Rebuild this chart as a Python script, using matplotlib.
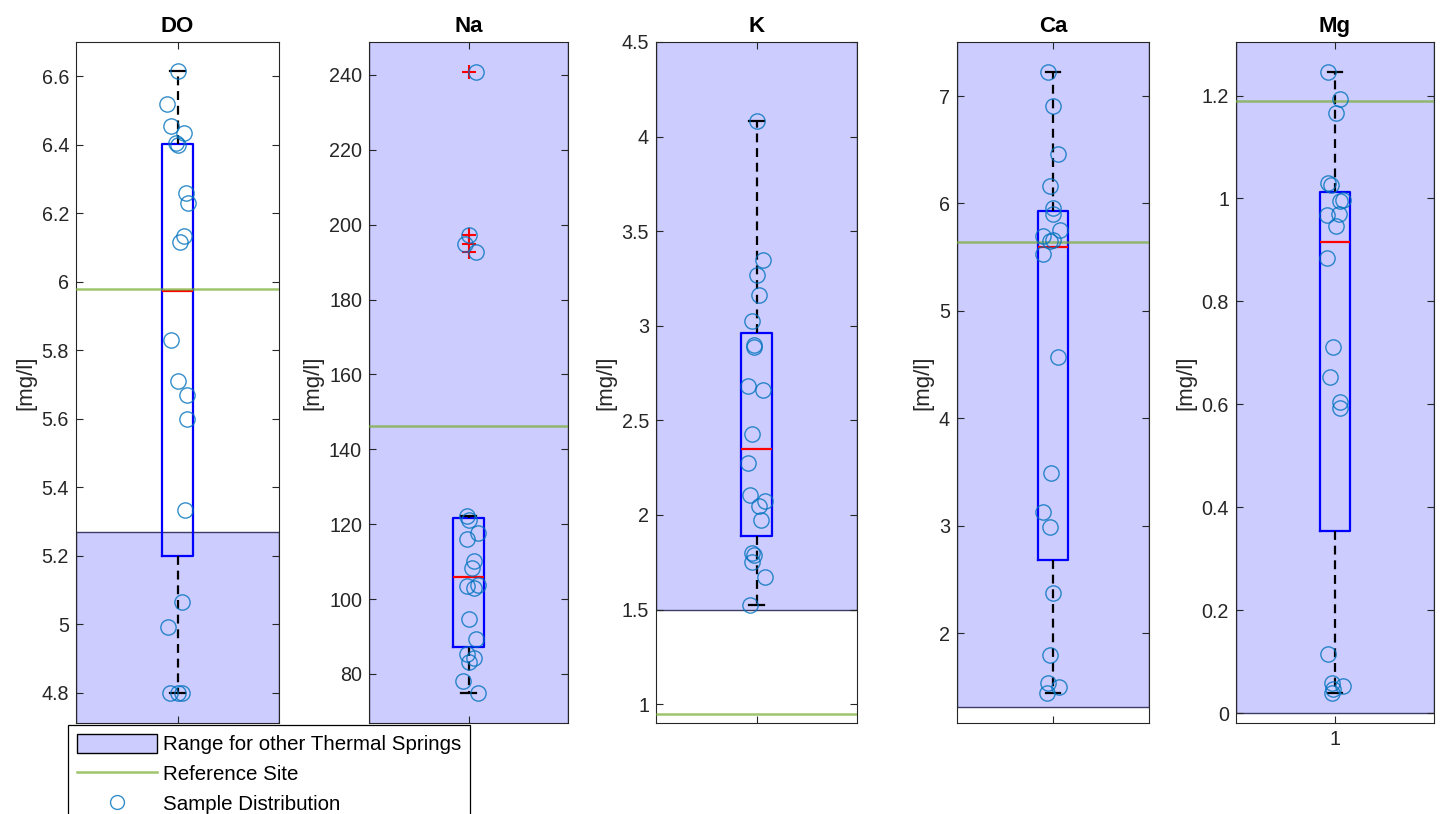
import numpy as np
import matplotlib
matplotlib.use('Agg')
import matplotlib.pyplot as plt
from matplotlib.patches import Rectangle, Patch
from matplotlib.lines import Line2D

plt.rcParams['font.family'] = ['Liberation Sans', 'DejaVu Sans']

# parameters shown, one panel each
params = ['DO', 'Na', 'K', 'Ca', 'Mg']

# sample values (mg/l) and the horizontal jitter
do_vals = [6.615, 6.52, 6.454, 6.433, 6.40, 6.405, 6.258, 6.23, 6.135, 6.115,
           5.83, 5.71, 5.67, 5.60, 5.335, 5.066, 4.993, 4.80, 4.80, 4.80]
do_jit = [0.0, -0.05, -0.03, 0.03, 0.0, -0.005, 0.04, 0.05, 0.03, 0.01,
          -0.03, 0.0, 0.045, 0.045, 0.035, 0.02, -0.045, -0.035, 0.0, 0.02]

na_vals = [240.8, 197.2, 194.8, 192.7, 122.1, 121.1, 117.6, 116.0, 110.1, 108.2,
           103.7, 103.5, 102.9, 94.7, 89.3, 85.3, 84.3, 83.2, 78.1, 75.0]
na_jit = [0.04, 0.0, -0.02, 0.04, -0.01, 0.0, 0.05, -0.01, 0.03, 0.02,
          0.05, -0.01, 0.03, 0.0, 0.04, -0.01, 0.03, 0.0, -0.03, 0.05]

k_vals = [4.08, 3.347, 3.27, 3.16, 3.025, 2.90, 2.89, 2.68, 2.66, 2.426,
          2.274, 2.105, 2.074, 2.047, 1.974, 1.80, 1.79, 1.753, 1.674, 1.526]
k_jit = [0.0, 0.03, 0.0, 0.01, -0.02, -0.01, -0.01, -0.04, 0.03, -0.02,
         -0.04, -0.03, 0.04, 0.01, 0.02, -0.02, -0.01, -0.02, 0.04, -0.03]

ca_vals = [7.22, 6.91, 6.456, 6.16, 5.955, 5.90, 5.75, 5.70, 5.655, 5.65,
           5.53, 4.57, 3.49, 3.13, 2.99, 2.37, 1.795, 1.535, 1.50, 1.44]
ca_jit = [-0.025, 0.0, 0.025, -0.015, 0.0, 0.0, 0.035, -0.05, 0.0, -0.015,
          -0.05, 0.025, -0.01, -0.05, -0.015, 0.0, -0.015, -0.025, 0.03, -0.03]

mg_vals = [1.246, 1.193, 1.167, 1.03, 1.027, 0.998, 0.996, 0.97, 0.967, 0.947,
           0.885, 0.712, 0.654, 0.605, 0.593, 0.115, 0.059, 0.053, 0.048, 0.040]
mg_jit = [-0.035, 0.025, 0.005, -0.035, -0.02, 0.04, 0.025, 0.02, -0.04, 0.005,
          -0.04, -0.01, -0.025, 0.025, 0.025, -0.035, -0.015, 0.04, -0.01, -0.015]

samples = [do_vals, na_vals, k_vals, ca_vals, mg_vals]
jitters = [do_jit, na_jit, k_jit, ca_jit, mg_jit]

# reference site value and range for other thermal springs
ref_site = [5.98, 146.1, 0.95, 5.645, 1.19]
range_lo = [4.0, 50.0, 1.5, 1.31, 0.0]
range_hi = [5.27, 260.0, 5.0, 8.0, 1.5]

# axis settings
ylims = [(4.712, 6.70), (66.9, 248.8), (0.9, 4.5), (1.162, 7.503), (-0.019, 1.304)]
yticks = [[4.8, 5.0, 5.2, 5.4, 5.6, 5.8, 6.0, 6.2, 6.4, 6.6],
          [80, 100, 120, 140, 160, 180, 200, 220, 240],
          [1, 1.5, 2, 2.5, 3, 3.5, 4, 4.5],
          [2, 3, 4, 5, 6, 7],
          [0, 0.2, 0.4, 0.6, 0.8, 1.0, 1.2]]

# axes boxes in pixels (left, right), figure is 1443 x 814
W, H = 1443, 814
ax_lr = [(76, 279), (369, 568), (656, 857), (957, 1149), (1236, 1434)]
ax_top, ax_bot = 42, 723

range_col = '#ccccff'
ref_col = '#77AC30'
pt_col = '#0072BD'
fs = 14.2


def matlab_stats(v):
    # box stats like MATLAB boxplot (hazen percentiles, 1.5 IQR whiskers)
    v = np.asarray(v, dtype=float)
    q1, med, q3 = np.percentile(v, [25, 50, 75], method='hazen')
    iqr = q3 - q1
    lo_f, hi_f = q1 - 1.5 * iqr, q3 + 1.5 * iqr
    inside = v[(v >= lo_f) & (v <= hi_f)]
    return {'med': med, 'q1': q1, 'q3': q3,
            'whislo': inside.min(), 'whishi': inside.max(),
            'fliers': v[(v < lo_f) | (v > hi_f)]}


fig = plt.figure(figsize=(W / 100, H / 100), dpi=100)

for i, name in enumerate(params):
    l, r = ax_lr[i]
    ax = fig.add_axes([l / W, 1 - ax_bot / H, (r - l) / W, (ax_bot - ax_top) / H])

    # shaded range for other springs
    ax.add_patch(Rectangle((0.5, range_lo[i]), 1.0, range_hi[i] - range_lo[i],
                           facecolor=range_col, edgecolor='#3c3c64', lw=1.0, zorder=0))

    st = matlab_stats(samples[i])
    ax.bxp([st], positions=[1], widths=0.155, capwidths=0.075, manage_ticks=False,
           boxprops=dict(color='blue', lw=1.6),
           medianprops=dict(color='red', lw=1.6),
           whiskerprops=dict(color='black', lw=1.6, linestyle=(0, (4, 2.6))),
           capprops=dict(color='black', lw=1.6),
           flierprops=dict(marker='+', markeredgecolor='red', markersize=10, mew=1.5),
           zorder=2)

    ax.axhline(ref_site[i], color=ref_col, lw=1.8, alpha=0.7, zorder=3)

    x = 1 + np.asarray(jitters[i])
    ax.plot(x, samples[i], 'o', mfc='none', mec=pt_col, mew=1.0, ms=11,
            alpha=0.8, zorder=4)

    ax.set_xlim(0.5, 1.5)
    ax.set_ylim(*ylims[i])
    ax.set_yticks(yticks[i])
    ax.set_yticklabels(['%g' % t for t in yticks[i]])
    ax.set_xticks([1])
    ax.set_xticklabels(['1'] if name == 'Mg' else [''])
    ax.tick_params(direction='in', length=5, width=0.8, top=True, right=True,
                   labelsize=fs, colors='#262626', pad=5)
    for s in ax.spines.values():
        s.set_color('#262626')
        s.set_linewidth(0.8)
    ax.set_ylabel('[mg/l]', fontsize=16, color='#262626', labelpad=4)
    ax.set_title(name, fontsize=16, fontweight='bold', pad=7)

handles = [Patch(facecolor=range_col, edgecolor='black', lw=1.0),
           Line2D([], [], color=ref_col, lw=1.8, alpha=0.7),
           Line2D([], [], marker='o', ls='none', mfc='none', mec=pt_col, ms=10, alpha=0.8)]
labels = ['Range for other Thermal Springs', 'Reference Site', 'Sample Distribution']
leg = fig.legend(handles, labels, loc='upper left', bbox_to_anchor=(68 / W, 1 - 725 / H),
                 fontsize=14.8, frameon=True, fancybox=False, framealpha=1,
                 edgecolor='black', handlelength=3.9, handleheight=1.05,
                 handletextpad=0.3, labelspacing=0.45, borderpad=0.42, borderaxespad=0)
leg.get_frame().set_linewidth(0.9)

fig.savefig('out.png', dpi=100)
